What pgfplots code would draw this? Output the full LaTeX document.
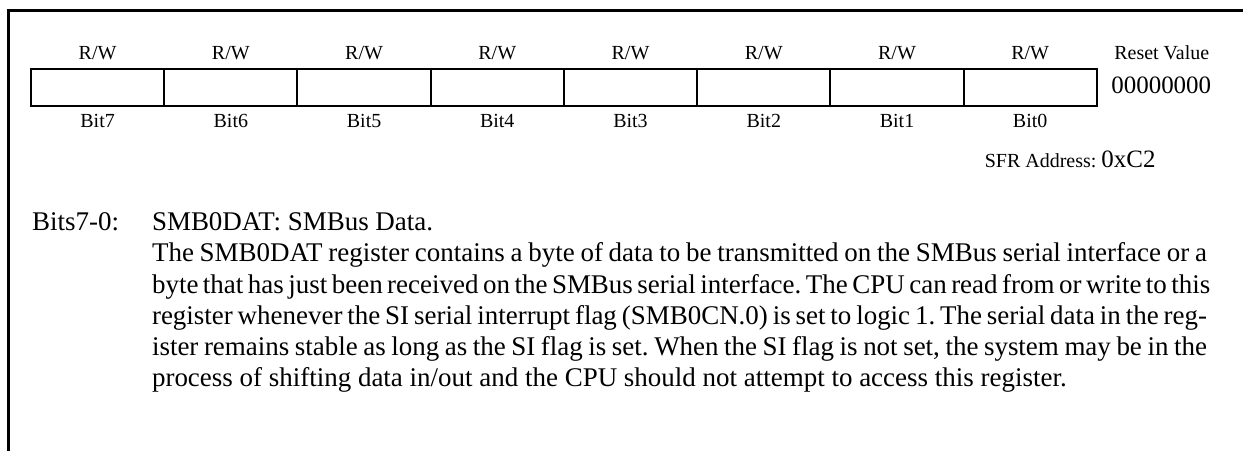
\documentclass[border=0pt]{standalone}
\usepackage{fontspec}
\setmainfont{Liberation Serif}
\usepackage{pgfplots}
\pgfplotsset{compat=1.18}
\frenchspacing
\begin{document}
\begin{tikzpicture}
\begin{axis}[
  width=1244pt, height=451pt, scale only axis,
  xmin=0, xmax=1244, ymin=0, ymax=451, y dir=reverse,
  hide axis, clip=false,
]
% bounding
\addplot[draw=none] coordinates {(0,0) (1244,451)};
% frame
\addplot[black, line width=2.7pt] coordinates {(8.7,451) (8.7,10.7) (1244,10.7)};
% register box
\addplot[black, line width=2pt] coordinates {(31,69) (1098,69) (1098,106) (31,106) (31,69)} -- cycle;
\addplot[black, line width=2pt] coordinates {(164.4,69) (164.4,106)};
\addplot[black, line width=2pt] coordinates {(297.8,69) (297.8,106)};
\addplot[black, line width=2pt] coordinates {(431.1,69) (431.1,106)};
\addplot[black, line width=2pt] coordinates {(564.5,69) (564.5,106)};
\addplot[black, line width=2pt] coordinates {(697.9,69) (697.9,106)};
\addplot[black, line width=2pt] coordinates {(831.3,69) (831.3,106)};
\addplot[black, line width=2pt] coordinates {(964.6,69) (964.6,106)};
% labels
\begin{scope}[every node/.style={inner sep=0pt, font=\fontsize{20}{24}\selectfont}]
\node[anchor=base] at (axis cs:97.7,60) {R/W};
\node[anchor=base] at (axis cs:231.1,60) {R/W};
\node[anchor=base] at (axis cs:364.5,60) {R/W};
\node[anchor=base] at (axis cs:497.8,60) {R/W};
\node[anchor=base] at (axis cs:631.2,60) {R/W};
\node[anchor=base] at (axis cs:764.6,60) {R/W};
\node[anchor=base] at (axis cs:898.0,60) {R/W};
\node[anchor=base] at (axis cs:1031.3,60) {R/W};
\node[anchor=base] at (axis cs:97.7,128) {Bit7};
\node[anchor=base] at (axis cs:231.1,128) {Bit6};
\node[anchor=base] at (axis cs:364.5,128) {Bit5};
\node[anchor=base] at (axis cs:497.8,128) {Bit4};
\node[anchor=base] at (axis cs:631.2,128) {Bit3};
\node[anchor=base] at (axis cs:764.6,128) {Bit2};
\node[anchor=base] at (axis cs:898.0,128) {Bit1};
\node[anchor=base] at (axis cs:1031.3,128) {Bit0};
\node[anchor=base] at (axis cs:1163,60) {Reset Value};
\node[anchor=base] at (axis cs:1162.5,94) {\fontsize{25}{30}\selectfont 00000000};
\node[anchor=base east] at (axis cs:1157,168) {SFR Address: \fontsize{25}{30}\selectfont 0xC2};
\end{scope}
\begin{scope}[every node/.style={inner sep=0pt, anchor=base west, font=\fontsize{27}{30}\selectfont}]
\node at (axis cs:32,231) {Bits7-0:};
\node at (axis cs:152,231) {SMB0DAT: SMBus Data.};
\node at (axis cs:152,262.2) {\hbox to 1056pt{The SMB0DAT register contains a byte of data to be transmitted on the SMBus serial interface or a}};
\node at (axis cs:152,293.4) {\hbox to 1056pt{byte that has just been received on the SMBus serial interface. The CPU can read from or write to this}};
\node at (axis cs:152,324.6) {\hbox to 1056pt{register whenever the SI serial interrupt flag (SMB0CN.0) is set to logic 1. The serial data in the reg-}};
\node at (axis cs:152,355.8) {\hbox to 1056pt{ister remains stable as long as the SI flag is set. When the SI flag is not set, the system may be in the}};
\node at (axis cs:152,387) {process of shifting data in/out and the CPU should not attempt to access this register.};
\end{scope}
\end{axis}
\end{tikzpicture}
\end{document}
